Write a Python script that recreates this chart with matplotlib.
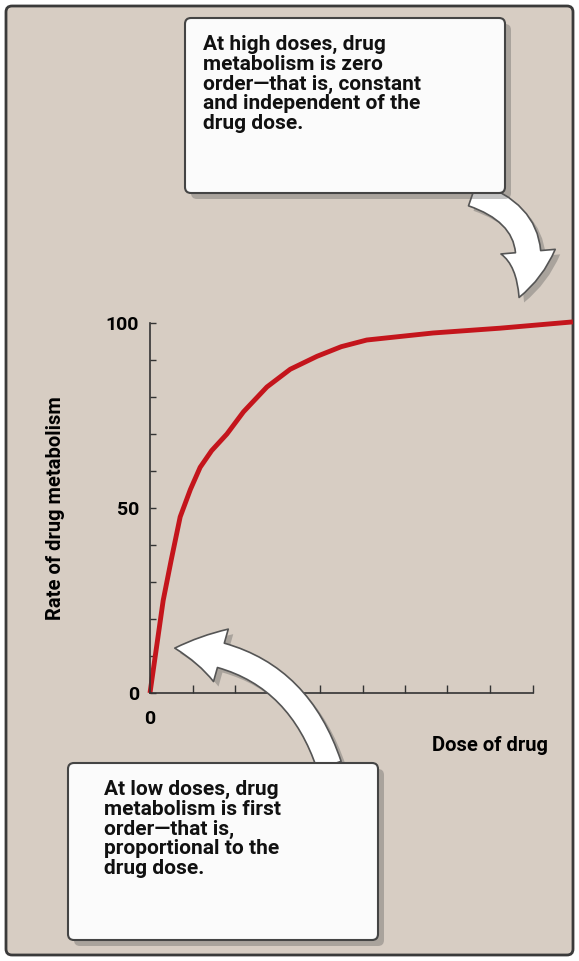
import matplotlib.pyplot as plt
from matplotlib.patches import FancyBboxPatch, FancyArrowPatch

# Curve (dose in tick units, rate in %)
dose = [0, 0.31, 0.5, 0.71, 0.95, 1.18, 1.45, 1.81, 2.2, 2.75, 3.3, 3.93, 4.5, 5.1, 6.66, 8.24, 9.95]
rate = [0, 25, 36, 47.6, 55, 61, 65.5, 70, 76, 82.7, 87.5, 91, 93.6, 95.4, 97.3, 98.6, 100.3]
y_labels = [0, 50, 100]

top_note = ("At high doses, drug\nmetabolism is zero\norder\u2014that is, constant\n"
            "and independent of the\ndrug dose.")
bottom_note = ("At low doses, drug\nmetabolism is first\norder\u2014that is,\n"
               "proportional to the\ndrug dose.")

plt.rcParams['font.family'] = ['Roboto', 'DejaVu Sans']

bg = '#d7cdc3'
W, H = 579, 961
fig = plt.figure(figsize=(W / 100, H / 100), dpi=100, facecolor='white')

# pixel overlay for callouts and arrows
ov = fig.add_axes([0, 0, 1, 1], zorder=3)
ov.set_xlim(0, W)
ov.set_ylim(H, 0)
ov.axis('off')
ov.patch.set_alpha(0)

bgax = fig.add_axes([0, 0, 1, 1], zorder=0)
bgax.set_xlim(0, W)
bgax.set_ylim(H, 0)
bgax.axis('off')
bgax.add_patch(FancyBboxPatch((6, 6), W - 12, H - 12, boxstyle='round,pad=0,rounding_size=6',
                              facecolor=bg, edgecolor='#3a3a3a', lw=2))

# chart axes
ax = fig.add_axes([150 / W, (H - 693) / H, 425 / W, 370 / H], zorder=2)
ax.patch.set_alpha(0)
ax.plot(dose, rate, color='#c4151c', lw=3.5, clip_on=False, solid_capstyle='butt')
ax.set_xlim(0, 10.0)
ax.set_ylim(0, 100)
for s in ['top', 'right']:
    ax.spines[s].set_visible(False)
ax.spines['bottom'].set_bounds(0, 9)
for s in ['left', 'bottom']:
    ax.spines[s].set_color('#333333')
    ax.spines[s].set_linewidth(1.2)
ax.set_xticks(range(0, 10))
ax.set_xticklabels(['0'] + [''] * 9)
ax.set_yticks(range(0, 101, 10))
ax.set_yticklabels([str(v) if v in y_labels else '' for v in range(0, 101, 10)])
ax.tick_params(axis='x', direction='in', length=6, width=1, color='#333333', pad=12, labelsize=14)
ax.tick_params(axis='y', direction='in', length=4, width=1, color='#333333', pad=8, labelsize=14)
for t in ax.get_xticklabels() + ax.get_yticklabels():
    t.set_fontweight('bold')
ax.set_ylabel('Rate of drug metabolism', fontsize=14.5, fontweight='bold')
ax.yaxis.set_label_coords(-0.2, 0.5)
ax.set_xlabel('Dose of drug', fontsize=14.5, fontweight='bold', ha='right')
ax.xaxis.set_label_coords(0.936, -0.115)


def arrow(p0, p1, rad):
    for off, fc, ec, a in [((5, 5), '#555555', 'none', 0.35), ((0, 0), 'white', '#555555', 1)]:
        ov.add_patch(FancyArrowPatch((p0[0] + off[0], p0[1] + off[1]), (p1[0] + off[0], p1[1] + off[1]),
                                     connectionstyle=f'arc3,rad={rad}',
                                     arrowstyle='simple,head_width=2.8,head_length=2.4,tail_width=1.3',
                                     mutation_scale=14, facecolor=fc, edgecolor=ec, lw=1.2, alpha=a))


def note(x, y, w, h, text, pad_x):
    ov.add_patch(FancyBboxPatch((x + 6, y + 6), w, h, boxstyle='round,pad=0,rounding_size=6',
                                facecolor='#555555', edgecolor='none', alpha=0.35))
    ov.add_patch(FancyBboxPatch((x, y), w, h, boxstyle='round,pad=0,rounding_size=6',
                                facecolor='#fbfbfb', edgecolor='#444444', lw=1.5))
    ov.text(x + pad_x, y + 17, text, fontsize=15, fontweight='bold', va='top', ha='left',
            linespacing=1.05, color='#111111')


arrow((470, 193), (518, 300), -0.55)
note(185, 18, 320, 175, top_note, 18)
arrow((330, 768), (172, 648), 0.35)
note(68, 763, 310, 177, bottom_note, 36)

fig.savefig('out.png', dpi=100, facecolor='white')
